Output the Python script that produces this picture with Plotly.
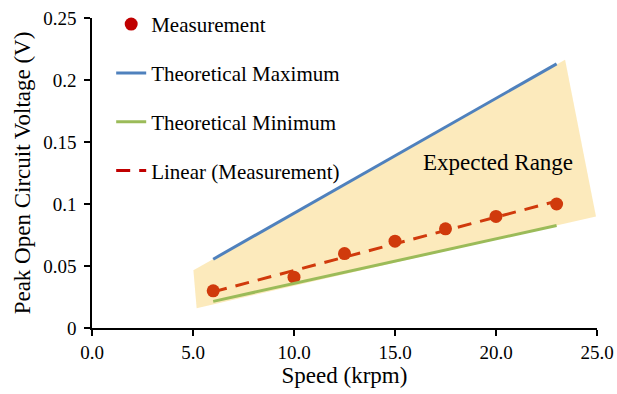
import numpy as np
import plotly.graph_objects as go

# Data
speed = [6, 10, 12.5, 15, 17.5, 20, 23]
measurement = [0.030, 0.041, 0.060, 0.070, 0.080, 0.090, 0.100]
theory_speed = [6, 23]
theory_max = [0.0555, 0.213]
theory_min = [0.0215, 0.0827]
range_x = [5.02, 5.18, 24.95, 23.42]
range_y = [0.0465, 0.016, 0.090, 0.2164]
x_ticks = [0, 5, 10, 15, 20, 25]
y_ticks = [0, 0.05, 0.1, 0.15, 0.2, 0.25]

coef = np.polyfit(speed, measurement, 1)
trend_x = [min(speed), max(speed)]
trend_y = list(np.polyval(coef, trend_x))

FONT = "Liberation Serif"
RED = "#C00000"

fig = go.Figure()
fig.add_trace(go.Scatter(x=speed, y=measurement, mode="markers", name="Measurement",
                         marker=dict(color=RED, size=13), legendgroup="a", legendrank=1))
fig.add_trace(go.Scatter(x=trend_x, y=trend_y, mode="lines", name="Linear (Measurement)",
                         line=dict(color=RED, width=3, dash="14px,9px"), legendgroup="d", legendrank=4))
fig.add_trace(go.Scatter(x=range_x + [range_x[0]], y=range_y + [range_y[0]], mode="lines",
                         fill="toself", fillcolor="rgba(246,186,40,0.31)", line=dict(width=0),
                         showlegend=False, hoverinfo="skip"))
fig.add_trace(go.Scatter(x=theory_speed, y=theory_max, mode="lines", name="Theoretical Maximum",
                         line=dict(color="#4F81BD", width=3), legendgroup="b", legendrank=2))
fig.add_trace(go.Scatter(x=theory_speed, y=theory_min, mode="lines", name="Theoretical Minimum",
                         line=dict(color="#9BBB59", width=3), legendgroup="c", legendrank=3))

fig.add_annotation(x=20.1, y=0.1333, text="Expected Range", showarrow=False,
                   font=dict(family=FONT, size=23, color="#000"))

fig.update_layout(
    width=617, height=394,
    margin=dict(l=92, r=20, t=18, b=66, autoexpand=False),
    paper_bgcolor="white", plot_bgcolor="white",
    font=dict(family=FONT, size=19, color="#000"),
    legend=dict(x=0.038, y=0.99, xanchor="left", yanchor="top", yref="container",
                bgcolor="rgba(0,0,0,0)",
                font=dict(family=FONT, size=21), traceorder="grouped", tracegroupgap=18.5),
    xaxis=dict(range=[0, 25], tickvals=x_ticks, tickformat=".1f", showgrid=False, zeroline=False,
               showline=True, linecolor="#000", linewidth=1.5, ticks="outside", ticklen=6,
               tickcolor="#000", tickwidth=1.5,
               title=dict(text="Speed (krpm)", font=dict(family=FONT, size=23), standoff=5)),
    yaxis=dict(range=[0, 0.25], tickvals=y_ticks, ticktext=["0", "0.05", "0.1", "0.15", "0.2", "0.25"],
               tickmode="array", showgrid=False, zeroline=False,
               showline=True, linecolor="#000", linewidth=1.5, ticks="outside", ticklen=6,
               tickcolor="#000", tickwidth=1.5, ticklabelstandoff=4,
               title=dict(text="Peak Open Circuit Voltage (V)", font=dict(family=FONT, size=23), standoff=6)),
)

fig.write_html("out.html")
